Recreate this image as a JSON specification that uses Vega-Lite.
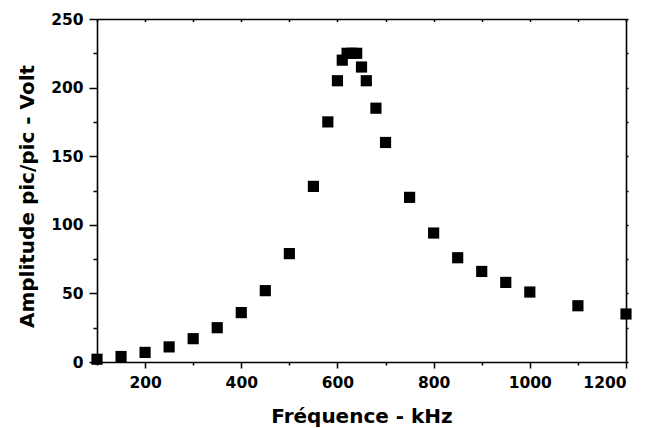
{
  "$schema": "https://vega.github.io/schema/vega-lite/v6.json",
  "width": 529,
  "height": 343,
  "autosize": "none",
  "padding": {"left": 97, "top": 19, "right": 22, "bottom": 66},
  "background": "white",
  "config": {
    "view": {"stroke": null},
    "axis": {
      "domainColor": "black",
      "tickColor": "black",
      "domainWidth": 1.6,
      "tickWidth": 1.5,
      "labelColor": "black",
      "titleColor": "black",
      "labelFont": "DejaVu Sans",
      "labelFontWeight": "bold",
      "labelFontSize": 15.5,
      "titleFont": "DejaVu Sans",
      "titleFontWeight": "bold",
      "titleFontSize": 20,
      "grid": false
    }
  },
  "data": {
    "values": [
      {"f": 100, "a": 2},
      {"f": 150, "a": 4},
      {"f": 200, "a": 7},
      {"f": 250, "a": 11},
      {"f": 300, "a": 17},
      {"f": 350, "a": 25},
      {"f": 400, "a": 36},
      {"f": 450, "a": 52},
      {"f": 500, "a": 79},
      {"f": 550, "a": 128},
      {"f": 580, "a": 175},
      {"f": 600, "a": 205},
      {"f": 610, "a": 220},
      {"f": 620, "a": 225},
      {"f": 630, "a": 225},
      {"f": 640, "a": 225},
      {"f": 650, "a": 215},
      {"f": 660, "a": 205},
      {"f": 680, "a": 185},
      {"f": 700, "a": 160},
      {"f": 750, "a": 120},
      {"f": 800, "a": 94},
      {"f": 850, "a": 76},
      {"f": 900, "a": 66},
      {"f": 950, "a": 58},
      {"f": 1000, "a": 51},
      {"f": 1100, "a": 41},
      {"f": 1200, "a": 35}
    ]
  },
  "layer": [
    {
      "mark": {"type": "point", "opacity": 0},
      "encoding": {
        "x": {"field": "f", "type": "quantitative", "scale": {"domain": [100, 1200], "nice": false, "zero": false},
          "axis": {"orient": "bottom", "values": [100, 300, 500, 700, 900, 1100], "tickSize": 3, "labels": false, "domain": false, "title": null}},
        "y": {"field": "a", "type": "quantitative", "scale": {"domain": [0, 250], "nice": false},
          "axis": {"orient": "left", "values": [25, 75, 125, 175, 225], "tickSize": 4, "labels": false, "domain": false, "title": null}}
      }
    },
    {
      "mark": {"type": "point", "opacity": 0},
      "encoding": {
        "x": {"field": "f", "type": "quantitative",
          "axis": {"orient": "top", "values": [100, 200, 300, 400, 500, 600, 700, 800, 900, 1000, 1100, 1200], "tickSize": -2.5, "labels": false, "title": null}},
        "y": {"field": "a", "type": "quantitative",
          "axis": {"orient": "right", "values": [0, 25, 50, 75, 100, 125, 150, 175, 200, 225, 250], "tickSize": 2, "labels": false, "title": null}}
      }
    },
    {
      "mark": {"type": "square", "size": 125, "color": "black", "opacity": 1, "clip": false},
      "encoding": {
        "x": {"field": "f", "type": "quantitative",
          "axis": {"orient": "bottom", "values": [200, 400, 600, 800, 1000, 1200], "format": "d", "tickSize": 6, "labelPadding": 7, "title": "Fréquence - kHz", "titleY": 60, "titleBaseline": "alphabetic"}},
        "y": {"field": "a", "type": "quantitative",
          "axis": {"orient": "left", "values": [0, 50, 100, 150, 200, 250], "format": "d", "tickSize": 8, "labelPadding": 6, "title": "Amplitude pic/pic - Volt", "titleX": -64, "titleY": 177, "titleBaseline": "alphabetic"}}
      }
    }
  ],
  "resolve": {"axis": {"x": "independent", "y": "independent"}}
}
